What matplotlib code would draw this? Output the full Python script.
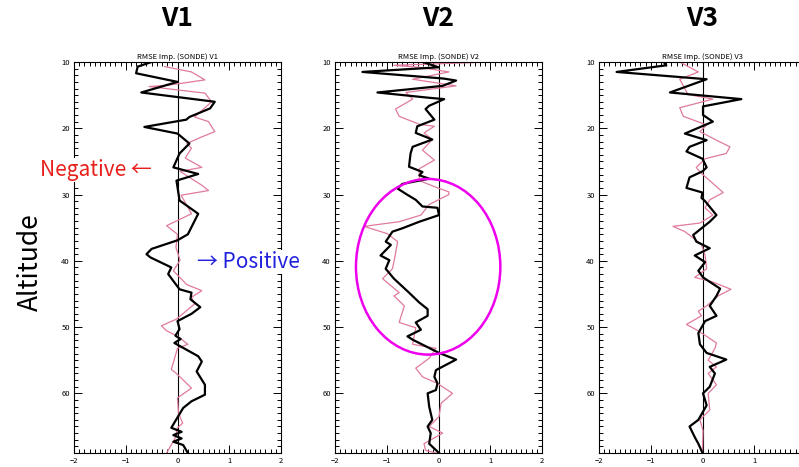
import numpy as np
import matplotlib.pyplot as plt
from matplotlib.patches import Ellipse
from matplotlib.ticker import MultipleLocator

plt.rcParams['font.family'] = ['Noto Sans CJK KR', 'DejaVu Sans']

# values: (altitude, RMSE improvement)
v1_black_alt = [10, 10.7, 11.7, 13, 14.6, 16, 17, 18.3, 18.7, 19.8, 20.8, 22.3, 23.8, 25.9, 26.9, 27.9,
                30.9, 32.9, 36, 36.9, 38.2, 39, 39.5, 41, 42, 44.3, 44.8, 45.8, 47, 48, 49.1, 50.3,
                51.3, 51.8, 52.4, 54.4, 55.2, 56.7, 58.7, 60.2, 61.2, 62.2, 63.5, 65.2, 65.8, 66.3,
                66.8, 67.3, 67.8, 69]
v1_black = [-0.5, -0.77, -0.8, 0.0, -0.7, 0.72, 0.63, 0.23, 0.17, -0.64, 0.0, 0.23, 0.04, -0.08, 0.4, -0.02,
            0.04, 0.4, 0.2, 0.0, -0.5, -0.6, -0.52, -0.12, -0.18, 0.04, 0.27, 0.25, 0.44, 0.27, 0.0, 0.04,
            -0.04, 0.06, -0.06, 0.4, 0.47, 0.37, 0.53, 0.53, 0.27, 0.11, 0.01, -0.12, 0.08, -0.08,
            0.08, -0.08, 0.11, 0.2]
v1_pink_alt = [10.7, 11.5, 12.7, 13.5, 13.7, 14.7, 16, 18.3, 19, 20.5, 21.3, 22.3, 23, 24.5, 25.9, 26.5,
               28.6, 29.4, 30.1, 32.9, 34.7, 36, 38, 39.9, 41.5, 43.6, 44.5, 45.5, 46.5, 48.8, 49.8, 50.5,
               51.5, 52.6, 53.2, 56.4, 57, 59.2, 60.7, 63, 64.5, 65.2, 66.8, 69]
v1_pink = [-0.25, 0.27, 0.53, -0.18, -0.55, 0.53, 0.66, 0.33, 0.6, 0.72, 0.47, 0.18, 0.27, 0.15, 0.47, 0.05,
           0.47, 0.6, 0.07, 0.27, -0.21, 0.0, -0.03, 0.05, -0.08, 0.18, 0.47, 0.27, 0.33, -0.02, -0.31, -0.22,
           0.02, 0.2, 0.0, -0.12, -0.02, 0.27, 0.0, 0.02, 0.1, 0.0, -0.05, -0.21]

v2_black_alt = [10, 10.8, 11.5, 12.5, 12.8, 13.6, 14.6, 15.4, 15.6, 16.6, 17.1, 18.7, 19.7, 20.7, 21.7,
                22.8, 23.8, 25.8, 26.6, 27.1, 27.6, 28.4, 29.1, 29.9, 30.8, 31.8, 32, 33.1, 34.1, 35.1,
                35.6, 37.1, 37.6, 39.2, 39.9, 41.2, 42.7, 44.8, 46.3, 47.3, 48.3, 49.3, 50.4, 51.4, 51.9,
                53.9, 54.9, 56.5, 57.5, 58.5, 59.5, 60, 62, 64, 65, 66, 67.6, 69]
v2_black = [-0.3, 0.0, -1.47, 0.1, 0.34, 0.08, -1.18, -0.18, 0.11, -0.18, -0.25, -0.08, -0.41, -0.44, -0.12,
            -0.5, -0.54, -0.57, -0.31, -0.37, -0.18, -0.7, -0.79, -0.63, -0.44, -0.31, -0.02, 0.01, -0.37, -0.7,
            -0.89, -1.02, -0.92, -1.12, -0.95, -1.02, -0.86, -0.57, -0.37, -0.21, -0.21, -0.44, -0.34, -0.6, -0.5,
            0.01, 0.34, -0.05, -0.08, -0.02, -0.05, -0.21, -0.18, -0.12, -0.21, -0.15, -0.18, 0.01]
v2_pink_alt = [10, 10.5, 10.8, 11.5, 12.6, 13.6, 14.6, 15.6, 17.1, 18.2, 19.4, 19.7, 20.7, 21.7, 23.3,
               24.8, 26.1, 27.9, 28.9, 29.6, 30, 31.5, 33.1, 34.1, 34.8, 35.9, 37.1, 38.9, 41.2, 42.7,
               44.8, 45.3, 46.8, 49.3, 50.1, 52.6, 53.2, 54.7, 56.2, 57.5, 58.5, 60, 61.5, 63.5, 65,
               66, 67.6, 68.6, 69]
v2_pink = [1.0, -0.86, -0.37, 0.2, -0.5, 0.34, -0.63, -0.5, -0.83, -0.76, -0.37, -0.08, -0.28, -0.12, -0.31,
           -0.08, -0.37, -0.37, -0.05, 0.2, 0.2, -0.18, -0.34, -0.76, -1.44, -0.99, -0.79, -0.83, -0.89, -1.08,
           -0.76, -0.86, -0.66, -0.76, -0.44, -0.5, -0.05, -0.18, -0.44, -0.31, -0.02, 0.27, 0.05, 0.01, -0.18,
           0.08, -0.28, -0.25, -0.05]

v3_black_alt = [10, 10.5, 11.5, 12.6, 14.6, 15.6, 16.7, 18, 19, 19.5, 20.8, 21.8, 22.8, 23.5, 24.6, 25.9,
                26.5, 27.4, 29, 29.7, 30.5, 31, 33.1, 34.1, 36.1, 37.1, 38.1, 39.2, 40.2, 41.5, 42.5, 44.2,
                45.3, 46.8, 48.3, 49.1, 50.9, 52.6, 53.9, 54.9, 56, 57, 59, 60, 61.8, 64, 65, 66.6,
                67.6, 69]
v3_black = [-0.75, -0.7, -1.66, 0.08, -0.63, 0.75, 0.01, 0.01, 0.2, 0.05, -0.34, 0.08, -0.25, -0.31, 0.0, 0.08,
            0.0, -0.25, -0.31, 0.0, -0.02, 0.05, 0.27, 0.14, -0.18, -0.12, 0.14, -0.15, 0.05, -0.08, 0.01, 0.34,
            0.27, 0.14, 0.27, 0.05, -0.08, -0.05, 0.08, 0.46, 0.14, 0.24, 0.14, 0.01, 0.08, -0.08, -0.25, -0.15,
            -0.08, 0.0]
v3_pink_alt = [10, 11.5, 12.6, 14.9, 15.6, 16.9, 18.2, 19.5, 20.5, 21.8, 22.8, 23.8, 24.6, 25.9, 26.6,
               27.9, 29.7, 30.8, 32, 33.1, 34.3, 34.8, 35.6, 37.5, 39.2, 41.2, 42.5, 43.2, 44.3, 45.3,
               46.8, 47.6, 48.3, 49.6, 50.4, 51.5, 52.4, 53.2, 55, 56, 57, 58.7, 60, 62.5, 64, 65.6, 68.6, 69]
v3_pink = [-0.44, -0.08, -0.44, -0.28, 0.2, -0.44, -0.37, 0.08, -0.05, 0.27, 0.53, 0.46, 0.05, -0.12, -0.05,
           0.14, 0.4, 0.14, 0.05, 0.2, -0.05, -0.57, -0.34, -0.02, 0.05, 0.08, -0.15, 0.2, 0.55, 0.3,
           0.08, -0.08, -0.02, -0.31, -0.12, 0.1, 0.27, 0.24, 0.11, 0.27, 0.11, 0.27, 0.11, 0.14, -0.05, 0.01, 0.0, 0.0]

names = ["V1", "V2", "V3"]
black = [(v1_black_alt, v1_black), (v2_black_alt, v2_black), (v3_black_alt, v3_black)]
pink = [(v1_pink_alt, v1_pink), (v2_pink_alt, v2_pink), (v3_pink_alt, v3_pink)]
xticks = [-2, -1, 0, 1, 2]

fig = plt.figure(figsize=(7.99, 4.67), dpi=100)
lefts = [74/799, 335/799, 599/799]

for i in range(3):
    ax = fig.add_axes([lefts[i], 1 - 453/467, 207/799, 391/467])
    ax.axvline(0, color="black", lw=0.8, zorder=1)
    ax.plot(pink[i][1], pink[i][0], color="#e07aa0", lw=0.9, zorder=2)
    ax.plot(black[i][1], black[i][0], color="black", lw=1.6, zorder=3)
    ax.set_xlim(-2, 2)
    ax.set_ylim(69, 10)
    labels = [str(t).replace("-", "\u2212") for t in xticks]
    if i == 2:
        labels[-1] = ""   # panel runs off the right edge of the picture
    ax.set_xticks(xticks, labels)
    ax.xaxis.set_minor_locator(MultipleLocator(0.1))
    ax.yaxis.set_major_locator(MultipleLocator(10))
    ax.yaxis.set_minor_locator(MultipleLocator(1))
    ax.tick_params(which="both", direction="in", top=True, right=(i < 2), labelsize=5.5,
                   width=0.7, pad=3)
    ax.tick_params(which="major", length=6)
    ax.tick_params(which="minor", length=3)
    for s in ax.spines.values():
        s.set_linewidth(0.8)
    ax.set_title("RMSE Imp. (SONDE) " + names[i], fontsize=5.5, pad=2)
    # big panel label
    xc = (lefts[i] + 103/799)
    fig.text(xc, 1 - 18/467, names[i], ha="center", va="center", fontsize=19, fontweight="bold")
    if i == 1:
        ax.add_patch(Ellipse((-0.2, 40.9), 2.79, 26.5, fill=False, edgecolor="#ee00ee",
                             lw=1.8, clip_on=False, zorder=4))

fig.text(30/799, 1 - 262/467, "Altitude", rotation=90, ha="center", va="center", fontsize=19)
fig.text(96/799, 1 - 170/467, "Negative ←", ha="center", va="center", fontsize=15,
         color="#e8201c", bbox=dict(facecolor="white", edgecolor="none", pad=1))
fig.text(248/799, 1 - 262/467, "→ Positive", ha="center", va="center", fontsize=15,
         color="#2020dd", bbox=dict(facecolor="white", edgecolor="none", pad=1))

fig.savefig("out.png", dpi=100)
